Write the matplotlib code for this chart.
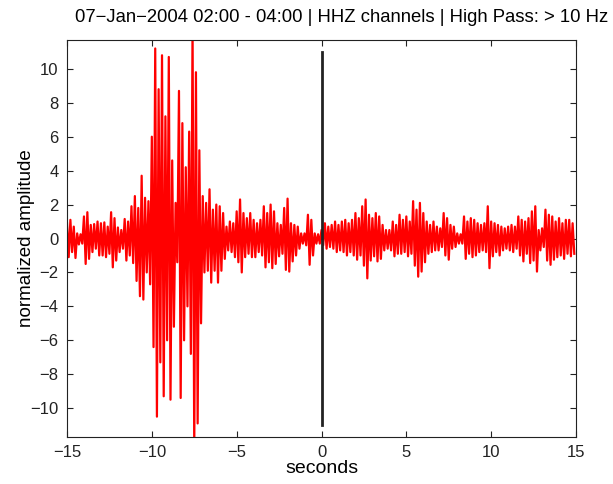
import numpy as np
import matplotlib
matplotlib.use('Agg')
import matplotlib.pyplot as plt

plt.rcParams['font.family'] = ['Liberation Sans', 'DejaVu Sans']

# waveform peaks, one pair per 0.2 s, starting at -15 s
# (upper peak at the bin start, lower trough 0.1 s later)
t_start = -15.0
bin_width = 0.2
upper_peaks = [
    0.9, 1.1, 0.7, 0.3, 0.25,     # -15
    1.3, 1.55, 0.8, 0.85, 1.0,    # -14
    0.9, 0.95, 0.7, 1.55, 1.2,    # -13
    0.65, 0.5, 1.15, 1.0, 1.9,    # -12
    2.5, 1.8, 3.7, 2.4, 2.2,      # -11
    6.0, 11.2, 8.8, 10.8, 7.2,    # -10
    10.7, 4.6, 2.1, 8.7, 6.8,     # -9
    4.2, 6.3, 12.5, 9.8, 5.2,     # -8
    2.5, 2.1, 2.9, 1.7, 2.0,      # -7
    1.9, 1.5, 0.7, 1.0, 0.9,      # -6
    1.6, 2.3, 1.5, 1.2, 1.5,      # -5
    1.1, 0.9, 1.1, 1.9, 1.5,      # -4
    2.0, 1.6, 0.9, 0.8, 1.8,      # -3
    2.35, 0.9, 0.8, 0.7, 0.3,     # -2
    0.3, 1.4, 1.1, 0.3, 0.25,     # -1
    0.5, 0.9, 0.7, 0.8, 1.0,      # 0
    0.8, 1.0, 1.1, 0.9, 1.1,      # 1
    1.5, 1.2, 1.9, 2.3, 1.4,      # 2
    1.2, 1.5, 1.3, 0.8, 0.5,      # 3
    0.5, 1.0, 0.8, 1.4, 1.1,      # 4
    1.3, 1.0, 2.2, 1.7, 2.1,      # 5
    1.5, 1.0, 0.8, 1.0, 0.7,      # 6
    0.6, 1.5, 1.2, 0.8, 0.7,      # 7
    0.3, 0.25, 1.3, 1.0, 1.2,     # 8
    1.1, 0.9, 0.8, 0.9, 1.9,      # 9
    1.0, 0.9, 0.8, 0.7, 0.6,      # 10
    0.7, 0.8, 0.7, 1.3, 1.1,      # 11
    1.0, 1.2, 1.6, 1.9, 0.5,      # 12
    0.6, 1.7, 1.4, 1.3, 1.0,      # 13
    1.2, 0.9, 1.1, 1.1, 0.9,      # 14
]
lower_peaks = [
    -1.1, -0.8, -1.15, -0.35, -0.3,
    -1.5, -1.2, -0.8, -0.6, -1.0,
    -1.0, -1.1, -0.9, -1.7, -1.3,
    -0.8, -0.6, -1.3, -1.0, -1.45,
    -2.5, -3.4, -3.6, -2.0, -2.7,
    -6.4, -10.5, -7.3, -9.3, -6.0,
    -9.5, -5.2, -1.4, -9.4, -6.0,
    -4.0, -6.8, -12.5, -10.9, -5.0,
    -2.0, -1.9, -2.6, -1.9, -2.6,
    -1.9, -1.2, -0.7, -0.8, -1.1,
    -1.4, -2.0, -1.1, -0.9, -1.1,
    -1.1, -0.8, -1.0, -1.7, -1.4,
    -1.75, -1.5, -1.05, -0.9, -1.85,
    -1.95, -1.35, -1.0, -0.6, -0.3,
    -0.4, -1.55, -1.0, -0.3, -0.3,
    -0.4, -0.6, -0.5, -0.6, -0.8,
    -0.7, -0.8, -1.0, -0.8, -1.0,
    -1.25, -1.0, -1.6, -2.35, -1.3,
    -1.05, -1.35, -1.2, -0.7, -0.6,
    -0.7, -1.05, -0.9, -0.9, -0.8,
    -1.05, -0.9, -1.6, -2.25, -1.95,
    -1.4, -0.9, -0.8, -0.7, -0.7,
    -0.5, -1.0, -1.25, -0.6, -0.5,
    -0.3, -0.3, -1.2, -0.9, -1.1,
    -1.0, -0.8, -0.7, -0.8, -1.75,
    -1.05, -0.8, -1.0, -0.7, -0.6,
    -0.7, -0.8, -0.6, -1.0, -1.35,
    -0.9, -1.45, -1.3, -1.95, -0.7,
    -0.5, -1.3, -1.55, -1.25, -1.1,
    -1.0, -1.2, -0.9, -1.05, -0.9,
]

marker_time = 0.0
marker_range = [-11, 11]

title = '07\u2212Jan\u22122004 02:00 - 04:00 | HHZ channels | High Pass: > 10 Hz'

# interleave peaks and troughs into one trace
n = len(upper_peaks)
t_up = t_start + bin_width * np.arange(n)
t_dn = t_up + bin_width / 2
t = np.empty(2 * n)
amp = np.empty(2 * n)
t[0::2] = t_up
t[1::2] = t_dn
amp[0::2] = upper_peaks
amp[1::2] = lower_peaks

fig = plt.figure(figsize=(6.13, 4.84), dpi=100)
ax = fig.add_axes([67 / 613, 1 - 437 / 484, (576 - 67) / 613, (437 - 40) / 484])

ax.plot(t, amp, color='red', linewidth=1.6)
ax.plot([marker_time, marker_time], marker_range, color='#222222', linewidth=2)

ax.set_xlim(-15, 15)
ax.set_ylim(-11.7, 11.7)
ax.set_xticks(np.arange(-15, 16, 5))
ax.set_yticks(np.arange(-10, 11, 2))
ax.tick_params(direction='in', top=True, right=True, length=4, labelsize=12,
               colors='#222222', pad=6)
for s in ax.spines.values():
    s.set_color('#222222')

ax.set_xlabel('seconds', fontsize=14, labelpad=0)
ax.set_ylabel('normalized amplitude', fontsize=13.5, labelpad=-3)

fig.text(342 / 613, 1 - 18 / 484, title, ha='center', va='center', fontsize=13.3)

fig.savefig('out.png', dpi=100)
